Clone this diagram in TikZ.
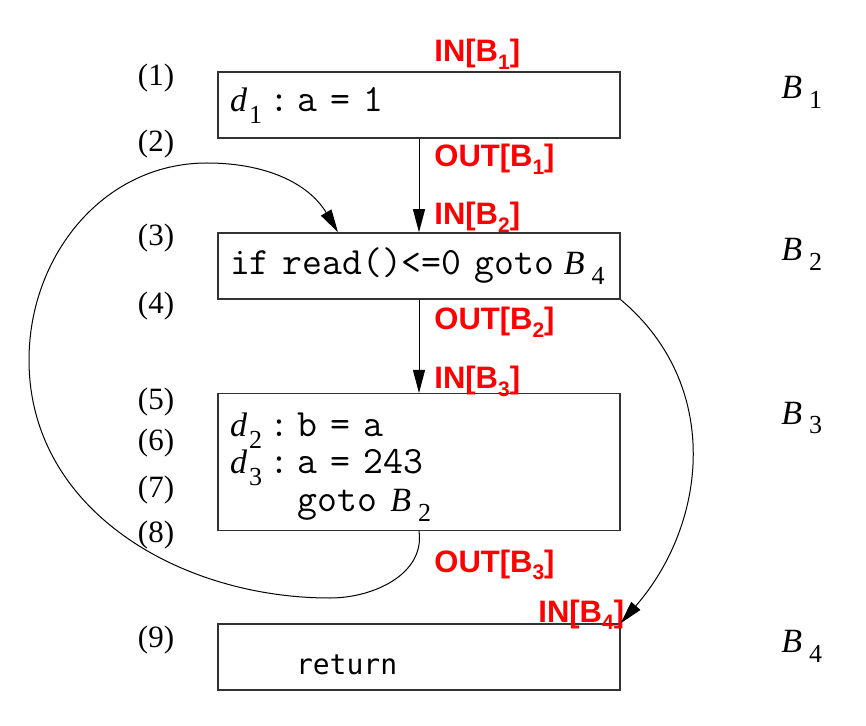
\documentclass[tikz,border=0pt]{standalone}
\usepackage{fontspec}
\setmainfont{Liberation Serif}
\newfontfamily\setfont{Liberation Sans}
\newfontfamily\retfont{DejaVu Sans Mono}
\usetikzlibrary{arrows.meta}
\colorlet{edgecol}{black!80}
\newcommand{\lowsub}[2]{\kern1pt\raisebox{-#2}{\fontsize{13}{13}\selectfont #1}}
\newcommand{\blkref}[1]{{\fontsize{17}{18}\selectfont\textit{B}}\kern2.5pt\lowsub{#1}{5pt}}
\newcommand{\defn}[1]{{\fontsize{17}{18}\selectfont\textit{d}}\lowsub{#1}{6pt}\kern3.5pt\texttt{:}\kern4.5pt}

\newcommand{\dfset}[2]{#1[B\raisebox{-0.25em}{\fontsize{10.5}{11}\selectfont #2}]}

\begin{document}
\begin{tikzpicture}[
            x=0.5pt,y=0.5pt,
            block/.style={draw=edgecol,line width=0.75pt,minimum width=201pt,minimum height=33pt,
                text width=189pt,inner xsep=6pt,align=left,
                font=\fontsize{19.3}{18.75}\selectfont},
            flow/.style={black,line width=0.5pt,-{Triangle[length=11.5pt,width=6pt]}},
            lineno/.style={anchor=base,font=\fontsize{15.5}{18}\selectfont},
            blkname/.style={anchor=base west,inner sep=0pt,font=\fontsize{17}{18}\selectfont},
            setlabel/.style={anchor=base west,inner sep=0pt,text=red,font=\setfont\bfseries\fontsize{15.5}{16}\selectfont}
        ]
            \useasboundingbox (0,0) rectangle (866,-726);

            \node [block] (b1) at (419,-105) {\defn{1}\texttt{a = 1}};
            \node [block] (b2) at (419,-266) {\mbox{\texttt{if read()<=0 goto}\hspace{5pt}\blkref{4}}};
            \node [block,minimum height=67pt] (b3) at (419,-462) {\rule{0pt}{18pt}\defn{2}\texttt{b = a}\\
                \defn{3}\texttt{a = 243}\\
                \phantom{\defn{3}}\texttt{goto }\blkref{2}};
            \node [block] (b4) at (419,-657) {\hspace*{33pt}\retfont\fontsize{14}{16}\selectfont
                \raisebox{-4pt}[\height][0pt]{return}};

            \node [lineno] (n1) at (156,-86) {(1)};
            \node [lineno] (n2) at (156,-152) {(2)};
            \node [lineno] (n3) at (156,-246) {(3)};
            \node [lineno] (n4) at (156,-314) {(4)};
            \node [lineno] (n5) at (156,-409) {(5)};
            \node [lineno] (n6) at (156,-451) {(6)};
            \node [lineno] (n7) at (156,-497) {(7)};
            \node [lineno] (n8) at (156,-542) {(8)};
            \node [lineno] (n9) at (156,-647) {(9)};

            \node [blkname] (l1) at (781,-99) {\blkref{1}};
            \node [blkname] (l2) at (781,-261) {\blkref{2}};
            \node [blkname] (l3) at (781,-424) {\blkref{3}};
            \node [blkname] (l4) at (781,-652) {\blkref{4}};

            \node [setlabel] (in1) at (434,-62) {\dfset{IN}{1}};
            \node [setlabel] (out1) at (434,-167) {\dfset{OUT}{1}};
            \node [setlabel] (in2) at (434,-225) {\dfset{IN}{2}};
            \node [setlabel] (out2) at (434,-330) {\dfset{OUT}{2}};
            \node [setlabel] (in3) at (434,-389) {\dfset{IN}{3}};
            \node [setlabel] (out3) at (434,-572) {\dfset{OUT}{3}};
            \node [setlabel] (in4) at (538,-622) {\dfset{IN}{4}};

            \draw [flow] (b1) -- (b2);
            \draw [flow] (b2) -- (b3);
            \draw [flow] (b3.south)
                to [out=-82,in=0] (330,-598)
                to [out=180,in=-90] (29,-360)
                to [out=90,in=180] (207,-163)
                to [out=0,in=121] ([xshift=-40.5pt]b2.north)
            ;
            \draw [flow] (b2.south east)
                to [out=-40,in=49,looseness=1.05] (b4.north east)
            ;
        \end{tikzpicture}
\end{document}
